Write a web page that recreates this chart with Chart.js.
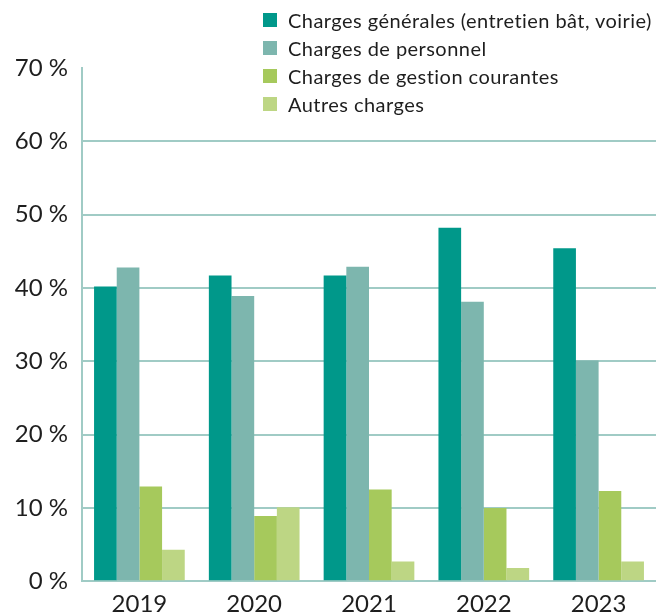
<!DOCTYPE html>
<html>
<head>
<meta charset="utf-8">
<script src="https://cdn.jsdelivr.net/npm/chart.js@4/dist/chart.umd.min.js"></script>
<style>
  html, body { margin: 0; padding: 0; background: #fff; overflow: hidden; }
  #wrap { position: relative; width: 656px; height: 628px; }
  #legend { position: absolute; left: 263px; top: 6px; font-family: Lato, sans-serif; font-size: 20px; letter-spacing: 0.45px; color: #1e1e1e; }
  #legend .row { display: flex; align-items: center; height: 28px; white-space: nowrap; }
  #legend .box { width: 14px; height: 14px; margin-right: 11px; flex: none; }
</style>
</head>
<body>
<div id="wrap">
  <canvas id="c"></canvas>
  <div id="legend"></div>
</div>
<script>
const categories = ['2019', '2020', '2021', '2022', '2023'];
const seriesNames = [
  'Charges générales (entretien bât, voirie)',
  'Charges de personnel',
  'Charges de gestion courantes',
  'Autres charges'
];
const chargesGenerales = [40.2, 41.7, 41.7, 48.2, 45.4];
const chargesPersonnel = [42.8, 38.9, 42.9, 38.1, 30.1];
const chargesGestion = [12.9, 8.9, 12.5, 10.0, 12.3];
const autresCharges = [4.3, 10.1, 2.7, 1.8, 2.7];
const yTicks = [0, 10, 20, 30, 40, 50, 60, 70];
const colors = ['#00988A', '#7DB6AE', '#A6C95C', '#BDD684'];
const seriesValues = [chargesGenerales, chargesPersonnel, chargesGestion, autresCharges];

const gridColor = '#A0CBC5';

const legend = document.getElementById('legend');
seriesNames.forEach((n, i) => {
  const row = document.createElement('div');
  row.className = 'row';
  const b = document.createElement('span');
  b.className = 'box';
  b.style.background = colors[i];
  const t = document.createElement('span');
  t.textContent = n;
  row.appendChild(b); row.appendChild(t);
  legend.appendChild(row);
});

new Chart(document.getElementById('c'), {
  type: 'bar',
  data: {
    labels: categories,
    datasets: seriesValues.map((vals, i) => ({
      label: seriesNames[i],
      data: vals,
      backgroundColor: colors[i],
      borderWidth: 0,
      categoryPercentage: 0.79,
      barPercentage: 1.0
    }))
  },
  options: {
    responsive: true,
    maintainAspectRatio: false,
    animation: false,
    layout: { padding: { top: 68, left: 0, right: 0, bottom: 0 } },
    plugins: { legend: { display: false }, tooltip: { enabled: false } },
    scales: {
      x: {
        grid: { display: false, drawTicks: false },
        border: { display: true, color: gridColor, width: 2 },
        ticks: { color: '#1e1e1e', font: { family: 'Lato', size: 24 }, padding: 9, maxRotation: 0 }
      },
      y: {
        min: 0, max: 70,
        afterBuildTicks: (s) => { s.ticks = yTicks.map(v => ({ value: v })); },
        afterFit: (s) => { s.width = 82; },
        grid: {
          drawTicks: false,
          lineWidth: 2,
          color: (ctx) => (ctx.tick && ctx.tick.value === 70) ? 'rgba(0,0,0,0)' : gridColor
        },
        border: { display: true, color: gridColor, width: 2 },
        ticks: {
          color: '#1e1e1e',
          font: { family: 'Lato', size: 24 },
          padding: 14,
          callback: (v) => v + ' %'
        }
      }
    }
  }
});
</script>
</body>
</html>
